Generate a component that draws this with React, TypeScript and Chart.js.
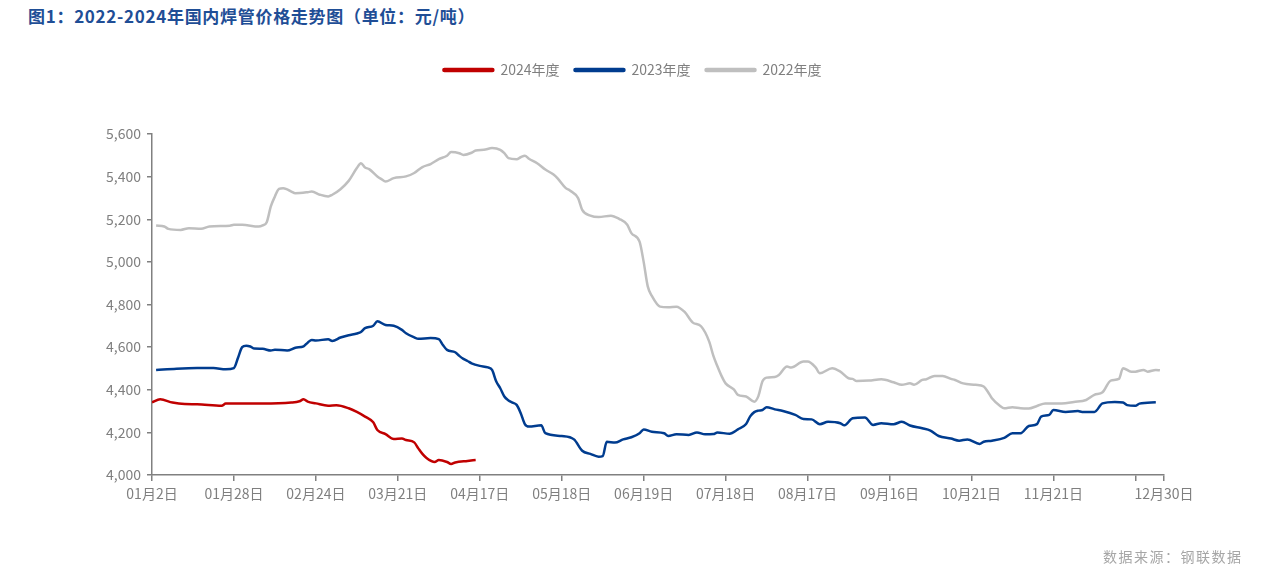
import React, { useEffect, useRef } from "react";
import { Chart, registerables } from "chart.js";

Chart.register(...registerables);

// x positions are trading-day indices (0 = 01月2日, 247 = 12月30日)
const xTickIdx = [0, 20, 40, 60, 80, 100, 120, 140, 160, 180, 200, 220, 240, 247];
const xTickLabels = [
  "01月2日", "01月28日", "02月24日", "03月21日", "04月17日", "05月18日", "06月19日",
  "07月18日", "08月17日", "09月16日", "10月21日", "11月21日", "", "12月30日",
];

const seriesNames = ["2024年度", "2023年度", "2022年度"];
const seriesColors = ["#C00000", "#003C8F", "#BFBFBF"];

const x2024 = [0, 2, 5, 8, 11, 17, 18, 27, 34, 36, 37, 38, 40, 43, 45, 48, 50, 52, 54, 55, 57, 59, 61, 62, 64, 65, 66, 67, 69, 70, 72, 73, 74, 77, 79];
const v2024 = [4341, 4355, 4340, 4333, 4332, 4325, 4335, 4335, 4340, 4346, 4355, 4344, 4336, 4325, 4327, 4313, 4296, 4274, 4247, 4211, 4192, 4169, 4171, 4164, 4153, 4125, 4099, 4080, 4061, 4070, 4061, 4052, 4059, 4066, 4070];

const x2023 = [1, 6, 11, 15, 18, 20, 21, 22, 23, 24, 25, 27, 29, 30, 33, 35, 37, 38, 39, 40, 43, 44, 46, 48, 50, 51, 52, 54, 55, 57, 59, 61, 62, 64, 65, 68, 70, 71, 72, 74, 75, 76, 77, 78, 80, 82, 83, 84, 85, 86, 87, 88, 89, 90, 91, 92, 95, 96, 100, 103, 105, 107, 109, 110, 111, 113, 115, 117, 119, 120, 122, 125, 126, 128, 131, 133, 135, 137, 138, 141, 143, 145, 146, 147, 148, 149, 150, 152, 154, 157, 159, 161, 163, 165, 168, 169, 171, 174, 176, 178, 181, 183, 185, 188, 190, 192, 195, 197, 199, 202, 203, 205, 208, 210, 212, 214, 216, 217, 219, 220, 223, 226, 227, 230, 232, 235, 237, 238, 240, 241, 245];
const v2023 = [4493, 4499, 4502, 4502, 4496, 4502, 4550, 4600, 4607, 4603, 4593, 4592, 4584, 4588, 4584, 4597, 4604, 4621, 4634, 4631, 4637, 4629, 4645, 4656, 4664, 4671, 4689, 4700, 4721, 4704, 4700, 4681, 4665, 4646, 4639, 4643, 4637, 4610, 4587, 4576, 4559, 4545, 4535, 4524, 4512, 4505, 4493, 4440, 4407, 4368, 4350, 4340, 4329, 4290, 4239, 4227, 4233, 4196, 4183, 4167, 4114, 4099, 4086, 4089, 4156, 4152, 4167, 4177, 4196, 4214, 4203, 4196, 4183, 4191, 4188, 4200, 4191, 4192, 4199, 4194, 4214, 4239, 4275, 4295, 4302, 4305, 4318, 4308, 4300, 4282, 4263, 4261, 4238, 4250, 4243, 4233, 4266, 4270, 4235, 4243, 4238, 4250, 4232, 4219, 4208, 4183, 4171, 4161, 4167, 4146, 4156, 4161, 4174, 4196, 4196, 4230, 4239, 4274, 4282, 4305, 4296, 4300, 4296, 4296, 4336, 4343, 4340, 4328, 4325, 4335, 4341];

const x2022 = [1, 3, 4, 7, 9, 12, 14, 19, 20, 22, 26, 27, 28, 29, 30, 31, 32, 33, 34, 35, 38, 39, 41, 43, 44, 46, 48, 50, 51, 52, 53, 55, 56, 57, 59, 62, 64, 66, 68, 70, 72, 73, 75, 76, 78, 79, 81, 83, 85, 86, 87, 89, 90, 91, 92, 94, 96, 98, 99, 101, 102, 104, 105, 107, 109, 112, 114, 116, 117, 119, 120, 121, 122, 124, 126, 128, 130, 132, 134, 136, 137, 138, 139, 140, 142, 143, 145, 147, 148, 149, 150, 152, 153, 155, 156, 159, 160, 162, 163, 166, 168, 170, 171, 172, 175, 178, 181, 183, 185, 186, 188, 189, 191, 193, 195, 196, 198, 201, 203, 204, 205, 207, 208, 210, 212, 214, 216, 218, 222, 225, 228, 230, 232, 234, 236, 237, 239, 240, 242, 243, 245, 246];
const v2022 = [5171, 5166, 5155, 5150, 5158, 5155, 5166, 5170, 5174, 5174, 5166, 5171, 5186, 5260, 5307, 5343, 5346, 5340, 5330, 5322, 5327, 5330, 5315, 5307, 5315, 5341, 5380, 5440, 5463, 5443, 5435, 5401, 5388, 5377, 5393, 5401, 5417, 5445, 5459, 5482, 5498, 5515, 5510, 5502, 5512, 5523, 5526, 5534, 5526, 5510, 5487, 5482, 5491, 5498, 5484, 5463, 5433, 5410, 5392, 5346, 5335, 5299, 5244, 5217, 5210, 5217, 5202, 5174, 5135, 5095, 5000, 4885, 4840, 4790, 4787, 4790, 4765, 4715, 4698, 4626, 4560, 4510, 4465, 4430, 4402, 4376, 4368, 4344, 4370, 4440, 4457, 4460, 4469, 4509, 4504, 4532, 4532, 4504, 4477, 4501, 4485, 4454, 4451, 4441, 4443, 4449, 4435, 4423, 4430, 4424, 4446, 4449, 4465, 4465, 4451, 4446, 4430, 4423, 4415, 4391, 4360, 4324, 4313, 4318, 4313, 4312, 4324, 4336, 4336, 4343, 4352, 4376, 4388, 4443, 4451, 4501, 4485, 4485, 4493, 4485, 4493, 4491];

const yMin = 4000;
const yMax = 5600;
const yStep = 200;

const FONT = "'Noto Sans CJK SC', 'Noto Sans', sans-serif";

function toPoints(xs: number[], ys: number[]) {
  return xs.map((x, i) => ({ x, y: ys[i] }));
}

export default function App() {
  const canvasRef = useRef<HTMLCanvasElement | null>(null);

  useEffect(() => {
    if (!canvasRef.current) return;
    const seriesX = [x2024, x2023, x2022];
    const seriesY = [v2024, v2023, v2022];
    const chart = new Chart(canvasRef.current, {
      type: "line",
      data: {
        datasets: seriesNames.map((name, i) => ({
          label: name,
          data: toPoints(seriesX[i], seriesY[i]),
          borderColor: seriesColors[i],
          backgroundColor: seriesColors[i],
          borderWidth: 2.5,
          pointRadius: 0,
          pointHoverRadius: 0,
          cubicInterpolationMode: "monotone" as const,
          fill: false,
        })),
      },
      options: {
        animation: false,
        responsive: false,
        maintainAspectRatio: false,
        layout: { padding: { top: 48, left: 101, right: 101, bottom: 72 } },
        plugins: {
          tooltip: { enabled: false },
          legend: {
            position: "top",
            labels: {
              boxWidth: 50,
              boxHeight: 2,
              padding: 15,
              useBorderRadius: true,
              borderRadius: 1,
              color: "#7f7f7f",
              font: { family: FONT, size: 14 },
            },
          },
          subtitle: {
            display: true,
            text: "",
            weight: 500,
            font: { size: 10, lineHeight: 1 },
            padding: { top: 37, bottom: 0 },
          },
        },
        scales: {
          x: {
            type: "linear",
            min: xTickIdx[0],
            max: xTickIdx[xTickIdx.length - 1],
            afterBuildTicks: (axis: any) => {
              axis.ticks = xTickIdx.map((v) => ({ value: v }));
            },
            afterFit: (axis: any) => {
              axis.height = 30;
            },
            ticks: {
              autoSkip: false,
              maxRotation: 0,
              minRotation: 0,
              padding: 4,
              color: "#7f7f7f",
              font: { family: FONT, size: 14 },
              callback: (_v: any, index: number) => xTickLabels[index],
            },
            grid: {
              display: true,
              drawOnChartArea: false,
              drawTicks: true,
              tickLength: 6,
              color: "#808080",
              lineWidth: 1.5,
            },
            border: { display: true, color: "#808080", width: 1.5 },
          },
          y: {
            min: yMin,
            max: yMax,
            afterFit: (axis: any) => {
              axis.width = 51;
            },
            ticks: {
              stepSize: yStep,
              padding: 6,
              color: "#7f7f7f",
              font: { family: FONT, size: 14 },
              callback: (v: any) => Number(v).toLocaleString("en-US"),
            },
            grid: {
              display: true,
              drawOnChartArea: false,
              drawTicks: true,
              tickLength: 5,
              color: "#808080",
              lineWidth: 1.5,
            },
            border: { display: true, color: "#808080", width: 1.5 },
          },
        },
      },
    });
    return () => chart.destroy();
  }, []);

  return (
    <div style={{ position: "absolute", left: 0, top: 0, width: 1265, height: 577, background: "#fff", overflow: "hidden" }}>
      <div
        style={{
          position: "absolute",
          left: 28,
          top: 6,
          fontFamily: FONT,
          fontWeight: 700,
          fontSize: 17,
          lineHeight: "19px",
          letterSpacing: "0.7px",
          color: "#1F4E96",
          whiteSpace: "nowrap",
        }}
      >
        图1：2022-2024年国内焊管价格走势图（单位：元/吨）
      </div>
      <canvas ref={canvasRef} width={1265} height={577} style={{ position: "absolute", left: 0, top: 0 }} />
      <div
        style={{
          position: "absolute",
          left: 1103,
          top: 548,
          fontFamily: FONT,
          fontSize: 14,
          lineHeight: "16px",
          letterSpacing: "1.5px",
          color: "#A6A6A6",
          whiteSpace: "nowrap",
        }}
      >
        数据来源：钢联数据
      </div>
    </div>
  );
}
